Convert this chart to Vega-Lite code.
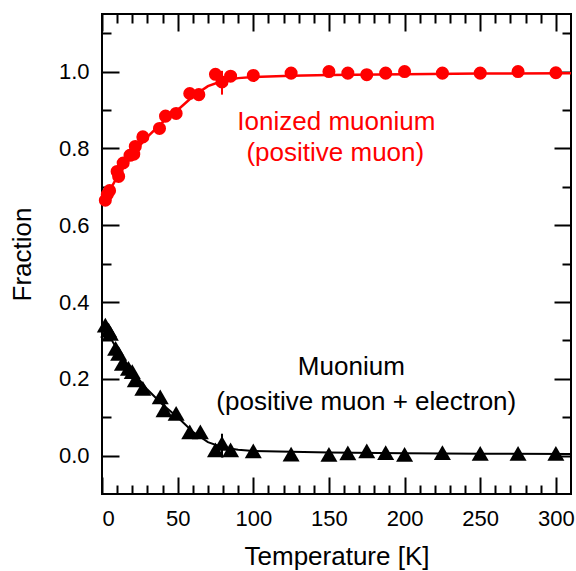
{
  "$schema": "https://vega.github.io/schema/vega-lite/v6.json",
  "width": 469,
  "height": 480,
  "autosize": "none",
  "padding": {"left": 102, "top": 14, "right": 5, "bottom": 77},
  "background": "white",
  "config": {
    "view": {"stroke": "black", "strokeWidth": 2},
    "font": "Liberation Sans",
    "axis": {"domain": false, "grid": false, "tickColor": "black", "tickWidth": 2, "labelColor": "black", "labelFont": "Liberation Sans", "labelFontSize": 22, "titleFont": "Liberation Sans", "titleFontSize": 26, "titleFontWeight": "normal", "titleColor": "black"}
  },
  "datasets": {
    "ion": [
      {"T": 2.2, "F": 0.665}, {"T": 3.5, "F": 0.68}, {"T": 5, "F": 0.69}, {"T": 10, "F": 0.74}, {"T": 11, "F": 0.727},
      {"T": 14, "F": 0.762}, {"T": 18.5, "F": 0.782}, {"T": 21, "F": 0.785}, {"T": 22, "F": 0.805}, {"T": 27, "F": 0.83},
      {"T": 38, "F": 0.852}, {"T": 42, "F": 0.884}, {"T": 49, "F": 0.891}, {"T": 58, "F": 0.943}, {"T": 64, "F": 0.94},
      {"T": 75, "F": 0.993}, {"T": 79.3, "F": 0.973}, {"T": 85, "F": 0.988}, {"T": 100, "F": 0.99}, {"T": 125, "F": 0.996},
      {"T": 150, "F": 1.0}, {"T": 162.5, "F": 0.996}, {"T": 175, "F": 0.992}, {"T": 187.5, "F": 0.996}, {"T": 200, "F": 1.0},
      {"T": 225, "F": 0.996}, {"T": 250, "F": 0.996}, {"T": 275, "F": 1.0}, {"T": 300, "F": 0.997}
    ],
    "mu": [
      {"T": 2.2, "F": 0.34}, {"T": 4.4, "F": 0.327}, {"T": 5.5, "F": 0.318}, {"T": 9, "F": 0.279}, {"T": 11, "F": 0.266},
      {"T": 13.5, "F": 0.24}, {"T": 17.5, "F": 0.227}, {"T": 20, "F": 0.219}, {"T": 22, "F": 0.197}, {"T": 27, "F": 0.175},
      {"T": 38.5, "F": 0.153}, {"T": 41, "F": 0.119}, {"T": 49, "F": 0.11}, {"T": 58, "F": 0.062}, {"T": 65, "F": 0.062},
      {"T": 75, "F": 0.015}, {"T": 79.3, "F": 0.032}, {"T": 85, "F": 0.015}, {"T": 100, "F": 0.012}, {"T": 125, "F": 0.004},
      {"T": 150, "F": 0.003}, {"T": 162.5, "F": 0.007}, {"T": 175, "F": 0.012}, {"T": 187.5, "F": 0.008}, {"T": 200, "F": 0.003},
      {"T": 225, "F": 0.008}, {"T": 250, "F": 0.006}, {"T": 275, "F": 0.006}, {"T": 300, "F": 0.006}
    ],
    "ionfit": [
      {"T": 1, "F": 0.665}, {"T": 5, "F": 0.69}, {"T": 10, "F": 0.725}, {"T": 15, "F": 0.755}, {"T": 20, "F": 0.785},
      {"T": 30, "F": 0.83}, {"T": 40, "F": 0.868}, {"T": 50, "F": 0.9}, {"T": 60, "F": 0.935}, {"T": 70, "F": 0.962},
      {"T": 80, "F": 0.976}, {"T": 90, "F": 0.983}, {"T": 100, "F": 0.986}, {"T": 125, "F": 0.989}, {"T": 150, "F": 0.991},
      {"T": 200, "F": 0.993}, {"T": 250, "F": 0.995}, {"T": 310, "F": 0.996}
    ],
    "mufit": [
      {"T": 1, "F": 0.335}, {"T": 5, "F": 0.31}, {"T": 10, "F": 0.277}, {"T": 15, "F": 0.248}, {"T": 20, "F": 0.22},
      {"T": 30, "F": 0.172}, {"T": 40, "F": 0.133}, {"T": 50, "F": 0.1}, {"T": 60, "F": 0.062}, {"T": 70, "F": 0.035},
      {"T": 80, "F": 0.021}, {"T": 90, "F": 0.015}, {"T": 100, "F": 0.012}, {"T": 125, "F": 0.01}, {"T": 150, "F": 0.008},
      {"T": 200, "F": 0.006}, {"T": 250, "F": 0.005}, {"T": 310, "F": 0.004}
    ],
    "err": [
      {"T": 79.3, "lo": 0.94, "hi": 1.002, "series": "ion"},
      {"T": 79.3, "lo": -0.005, "hi": 0.057, "series": "mu"}
    ],
    "notes": [
      {"T": 154.9, "F": 0.847, "text": "Ionized muonium", "series": "ion"},
      {"T": 154.2, "F": 0.767, "text": "(positive muon)", "series": "ion"},
      {"T": 164.8, "F": 0.21, "text": "Muonium", "series": "mu"},
      {"T": 174.7, "F": 0.12, "text": "(positive muon + electron)", "series": "mu"}
    ]
  },
  "resolve": {"axis": {"x": "independent", "y": "independent"}},
  "layer": [
    {
      "data": {"name": "ionfit"},
      "mark": {"type": "line", "color": "#ff0000", "strokeWidth": 2.5},
      "encoding": {
        "x": {"field": "T", "type": "quantitative", "scale": {"domain": [0, 310], "nice": false, "zero": false},
              "axis": {"orient": "bottom", "values": [0, 50, 100, 150, 200, 250, 300], "tickSize": -17, "labelPadding": 31, "title": "Temperature [K]", "titlePadding": 14}},
        "y": {"field": "F", "type": "quantitative", "scale": {"domain": [-0.1, 1.15], "nice": false, "zero": false},
              "axis": {"orient": "left", "values": [0, 0.2, 0.4, 0.6, 0.8, 1.0], "format": ".1f", "tickSize": -17, "labelPadding": 30, "title": "Fraction", "titlePadding": 23}}
      }
    },
    {
      "data": {"name": "mufit"},
      "mark": {"type": "line", "color": "black", "strokeWidth": 2},
      "encoding": {
        "x": {"field": "T", "type": "quantitative", "scale": {"domain": [0, 310], "nice": false, "zero": false},
              "axis": {"orient": "bottom", "values": [10, 20, 30, 40, 60, 70, 80, 90, 110, 120, 130, 140, 160, 170, 180, 190, 210, 220, 230, 240, 260, 270, 280, 290], "tickSize": -9, "labels": false, "title": null}},
        "y": {"field": "F", "type": "quantitative", "scale": {"domain": [-0.1, 1.15], "nice": false, "zero": false},
              "axis": {"orient": "left", "values": [0.1, 0.3, 0.5, 0.7, 0.9, 1.1], "tickSize": -9, "labels": false, "title": null}}
      }
    },
    {
      "data": {"name": "ion"},
      "mark": {"type": "point", "shape": "circle", "filled": true, "opacity": 1, "color": "#ff0000", "size": 170},
      "encoding": {
        "x": {"field": "T", "type": "quantitative", "scale": {"domain": [0, 310], "nice": false, "zero": false},
              "axis": {"orient": "top", "values": [0, 50, 100, 150, 200, 250, 300], "tickSize": -17, "labels": false, "title": null}},
        "y": {"field": "F", "type": "quantitative", "scale": {"domain": [-0.1, 1.15], "nice": false, "zero": false},
              "axis": {"orient": "right", "values": [0, 0.2, 0.4, 0.6, 0.8, 1.0], "tickSize": -17, "labels": false, "title": null}}
      }
    },
    {
      "data": {"name": "mu"},
      "mark": {"type": "point", "shape": "triangle-up", "filled": true, "opacity": 1, "color": "black", "size": 290},
      "encoding": {
        "x": {"field": "T", "type": "quantitative", "scale": {"domain": [0, 310], "nice": false, "zero": false},
              "axis": {"orient": "top", "values": [10, 20, 30, 40, 60, 70, 80, 90, 110, 120, 130, 140, 160, 170, 180, 190, 210, 220, 230, 240, 260, 270, 280, 290], "tickSize": -9, "labels": false, "title": null}},
        "y": {"field": "F", "type": "quantitative", "scale": {"domain": [-0.1, 1.15], "nice": false, "zero": false},
              "axis": {"orient": "right", "values": [0.1, 0.3, 0.5, 0.7, 0.9, 1.1], "tickSize": -9, "labels": false, "title": null}}
      }
    },
    {
      "data": {"name": "err"},
      "mark": {"type": "rule", "strokeWidth": 2},
      "encoding": {
        "x": {"field": "T", "type": "quantitative", "scale": {"domain": [0, 310], "nice": false, "zero": false}, "axis": null},
        "y": {"field": "lo", "type": "quantitative", "scale": {"domain": [-0.1, 1.15], "nice": false, "zero": false}, "axis": null},
        "y2": {"field": "hi"},
        "color": {"field": "series", "type": "nominal", "scale": {"domain": ["ion", "mu"], "range": ["#ff0000", "black"]}, "legend": null}
      }
    },
    {
      "data": {"name": "notes"},
      "mark": {"type": "text", "font": "Liberation Sans", "fontSize": 26, "align": "center", "baseline": "alphabetic"},
      "encoding": {
        "x": {"field": "T", "type": "quantitative", "scale": {"domain": [0, 310], "nice": false, "zero": false}, "axis": null},
        "y": {"field": "F", "type": "quantitative", "scale": {"domain": [-0.1, 1.15], "nice": false, "zero": false}, "axis": null},
        "text": {"field": "text"},
        "color": {"field": "series", "type": "nominal", "scale": {"domain": ["ion", "mu"], "range": ["#ff0000", "black"]}, "legend": null}
      }
    }
  ]
}
